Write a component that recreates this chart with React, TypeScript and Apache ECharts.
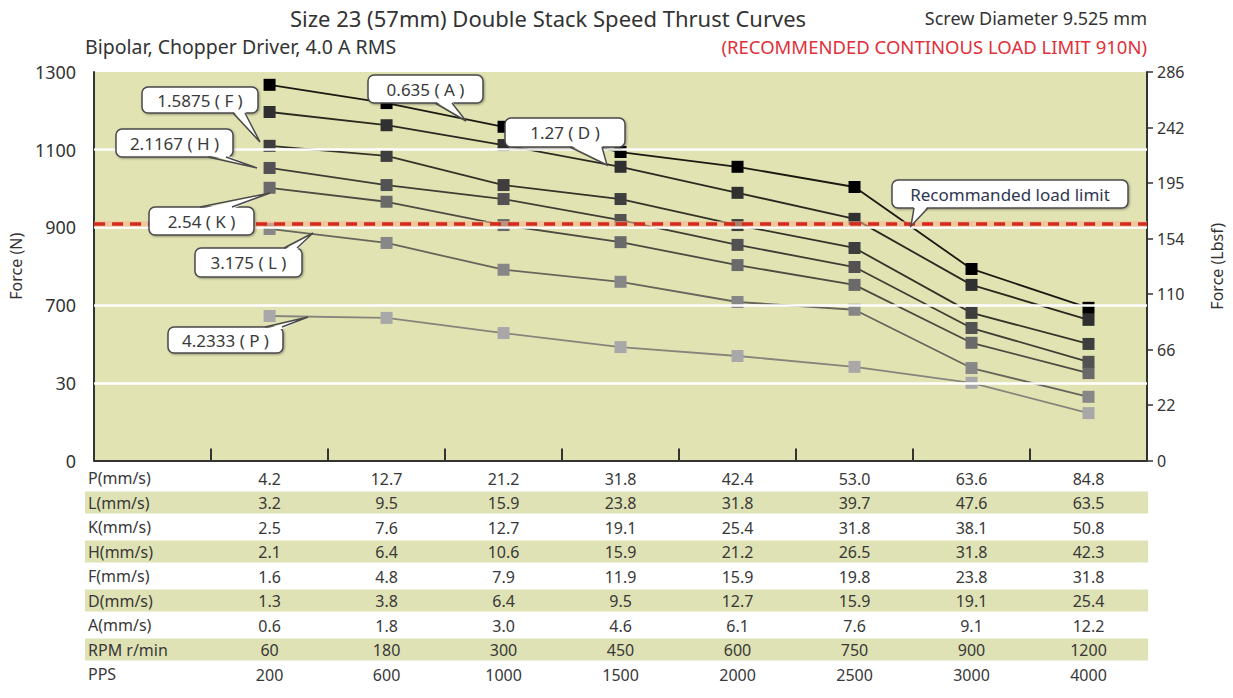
import React, { useEffect, useRef } from "react";
import * as echarts from "echarts";

// ---- data ----
const speedsP = ["4.2", "12.7", "21.2", "31.8", "42.4", "53.0", "63.6", "84.8"];
const rowL = ["3.2", "9.5", "15.9", "23.8", "31.8", "39.7", "47.6", "63.5"];
const rowK = ["2.5", "7.6", "12.7", "19.1", "25.4", "31.8", "38.1", "50.8"];
const rowH = ["2.1", "6.4", "10.6", "15.9", "21.2", "26.5", "31.8", "42.3"];
const rowF = ["1.6", "4.8", "7.9", "11.9", "15.9", "19.8", "23.8", "31.8"];
const rowD = ["1.3", "3.8", "6.4", "9.5", "12.7", "15.9", "19.1", "25.4"];
const rowA = ["0.6", "1.8", "3.0", "4.6", "6.1", "7.6", "9.1", "12.2"];
const rowRPM = ["60", "180", "300", "450", "600", "750", "900", "1200"];
const rowPPS = ["200", "600", "1000", "1500", "2000", "2500", "3000", "4000"];
const rowNames = ["P(mm/s)", "L(mm/s)", "K(mm/s)", "H(mm/s)", "F(mm/s)", "D(mm/s)", "A(mm/s)", "RPM r/min", "PPS"];

const seriesNames = ["0.635 ( A )", "1.27 ( D )", "1.5875 ( F )", "2.1167 ( H )", "2.54 ( K )", "3.175 ( L )", "4.2333 ( P )"];
const forceA = [1267, 1220, 1159, 1094, 1056, 1004, 793, 693];
const forceD = [1197, 1163, 1112, 1056, 989, 922, 752, 662];
const forceF = [1110, 1084, 1009, 973, 906, 847, 680, 600];
const forceH = [1053, 1009, 973, 919, 855, 798, 641, 554];
const forceK = [1002, 966, 906, 862, 803, 752, 603, 525];
const forceL = [896, 860, 791, 760, 708, 688, 538, 464];
const forceP = [672, 667, 628, 592, 569, 541, 500, 422];

const leftTickValues = [300, 500, 700, 900, 1100, 1300];
const leftTickLabels = ["0", "30", "700", "900", "1100", "1300"];
const rightTickLabels = ["0", "22", "66", "110", "154", "195", "242", "286"];
const gridLineValues = [500, 700, 900, 1100];
const loadLimit = 910;

const markerColors = ["#000000", "#303030", "#3e3e3e", "#525252", "#6a6a6a", "#878787", "#a8a8a8"];
const lineColors = ["#1a1a10", "#2a2a20", "#333328", "#3e3e34", "#4c4c42", "#66665c", "#85857c"];

const FONT = "'Noto Sans', 'DejaVu Sans', sans-serif";

function callout(text: string, box: number[], base: number[], tip: number[], color = "#3a3a3a") {
  const [x1, y1, x2, y2] = box;
  const below = tip[1] > y2;
  const by = below ? y2 : y1;
  const inner = below ? by - 2 : by + 2;
  const stroke = "#4a4a4a";
  return [
    {
      type: "rect",
      z: 100,
      shape: { x: x1, y: y1, width: x2 - x1, height: y2 - y1, r: 6 },
      style: { fill: "#ffffff", stroke, lineWidth: 1.5, shadowBlur: 2, shadowOffsetX: 1, shadowOffsetY: 1, shadowColor: "rgba(0,0,0,0.35)" },
    },
    {
      type: "polygon",
      z: 101,
      shape: { points: [[base[0], inner], [base[1], inner], [tip[0], tip[1]]] },
      style: { fill: "#ffffff" },
    },
    {
      type: "polyline",
      z: 102,
      shape: { points: [[base[0], by], [tip[0], tip[1]], [base[1], by]] },
      style: { stroke, lineWidth: 1.5, fill: null },
    },
    {
      type: "text",
      z: 103,
      x: (x1 + x2) / 2,
      y: (y1 + y2) / 2,
      style: { text, fontSize: 17, fontFamily: FONT, fill: color, align: "center", verticalAlign: "middle" },
    },
  ];
}

export default function App() {
  const ref = useRef<HTMLDivElement>(null);
  useEffect(() => {
    if (!ref.current) return;
    const chart = echarts.init(ref.current, null, { renderer: "svg" });
    const forces = [forceA, forceD, forceF, forceH, forceK, forceL, forceP];
    const tableRows = [rowL, rowK, rowH, rowF, rowD, rowA, rowRPM, rowPPS];
    const rowStep = 24.5;
    const rowCenter0 = 478;

    const extraX = tableRows.map((row, i) => ({
      type: "category",
      gridIndex: 0,
      position: "bottom",
      offset: (i + 1) * rowStep,
      boundaryGap: true,
      data: ["", ...row],
      z: 5,
      axisLine: { show: false },
      axisTick: { show: false },
      splitLine: { show: false },
      axisLabel: { interval: 0, margin: 10, fontSize: 16, color: "#383838", fontFamily: FONT },
    }));

    const bands: any[] = [];
    [1, 3, 5, 7].forEach((r) => {
      bands.push({
        type: "rect",
        z: 0,
        shape: { x: 85, y: rowCenter0 + r * rowStep - 11, width: 1063, height: 22 },
        style: { fill: "#dfe2b4" },
      });
    });
    const rowLabelEls = rowNames.map((n, i) => ({
      type: "text",
      z: 10,
      x: 88,
      y: rowCenter0 + i * rowStep,
      style: { text: n, fontSize: 16, fontFamily: FONT, fill: "#383838", align: "left", verticalAlign: "middle" },
    }));

    const titles = [
      { type: "text", z: 10, x: 290, y: 18, style: { text: "Size 23 (57mm) Double Stack Speed Thrust Curves", fontSize: 22, fontFamily: FONT, fill: "#333", align: "left", verticalAlign: "middle" } },
      { type: "text", z: 10, x: 1147, y: 18, style: { text: "Screw Diameter 9.525 mm", fontSize: 18, fontFamily: FONT, fill: "#333", align: "right", verticalAlign: "middle" } },
      { type: "text", z: 10, x: 85, y: 46, style: { text: "Bipolar, Chopper Driver, 4.0 A RMS", fontSize: 19.5, fontFamily: FONT, fill: "#333", align: "left", verticalAlign: "middle" } },
      { type: "text", z: 10, x: 1147, y: 46, style: { text: "(RECOMMENDED CONTINOUS LOAD LIMIT 910N)", fontSize: 18.5, fontFamily: FONT, fill: "#e0303a", align: "right", verticalAlign: "middle" } },
    ];

    const callouts = [
      ...callout(seriesNames[0], [368, 75, 483, 103], [435, 452], [466, 121]),
      ...callout(seriesNames[1], [505, 118, 625, 147], [570, 602], [607, 165]),
      ...callout(seriesNames[2], [142, 87, 258, 113], [233, 245], [260, 142]),
      ...callout(seriesNames[3], [116, 129, 233, 157], [208, 226], [257, 168]),
      ...callout(seriesNames[4], [149, 207, 254, 235], [200, 232], [270, 193]),
      ...callout(seriesNames[5], [195, 248, 302, 277], [284, 297], [313, 233]),
      ...callout(seriesNames[6], [168, 327, 283, 353], [265, 282], [308, 317]),
      ...callout("Recommanded load limit", [892, 180, 1128, 208], [914, 928], [911, 226], "#2f3650"),
    ];

    const lineSeries = forces.map((vals, i) => ({
      type: "line",
      name: seriesNames[i],
      xAxisIndex: 0,
      yAxisIndex: 0,
      z: 3 + (forces.length - i) * 0.01,
      data: [null, ...vals],
      symbol: "rect",
      symbolSize: 12,
      showSymbol: true,
      lineStyle: { color: lineColors[i], width: 1.8 },
      itemStyle: { color: markerColors[i], borderWidth: 0 },
    }));

    chart.setOption({
      animation: false,
      textStyle: { fontFamily: FONT },
      grid: {
        left: 86,
        right: 85,
        top: 72,
        bottom: 237.5,
        show: true,
        backgroundColor: "#e2e3b3",
        borderWidth: 0,
      },
      xAxis: [
        {
          type: "category",
          gridIndex: 0,
          position: "bottom",
          boundaryGap: true,
          data: ["", ...speedsP],
          z: 5,
          axisLine: { show: true, lineStyle: { color: "#333", width: 2 } },
          axisTick: { show: true, inside: true, length: 12, interval: 0, lineStyle: { color: "#333", width: 2 } },
          splitLine: { show: false },
          axisLabel: { interval: 0, margin: 10, fontSize: 16, color: "#383838", fontFamily: FONT },
        },
        ...extraX,
      ],
      yAxis: [
        {
          type: "value",
          min: 300,
          max: 1300,
          interval: 100,
          position: "left",
          name: "Force (N)",
          nameLocation: "middle",
          nameGap: 60,
          nameRotate: 90,
          nameTextStyle: { fontSize: 16, color: "#333", fontFamily: FONT },
          axisLine: { show: true, lineStyle: { color: "#333", width: 2 } },
          axisTick: { show: false },
          splitLine: { show: false },
          axisLabel: {
            margin: 18,
            fontSize: 18,
            color: "#333",
            fontFamily: FONT,
            formatter: (v: number) => {
              const k = leftTickValues.indexOf(v);
              return k >= 0 ? leftTickLabels[k] : "";
            },
          },
        },
        {
          type: "value",
          min: 0,
          max: rightTickLabels.length - 1,
          interval: 1,
          position: "right",
          name: "Force (Lbsf)",
          nameLocation: "middle",
          nameGap: 62,
          nameRotate: 90,
          nameTextStyle: { fontSize: 16, color: "#333", fontFamily: FONT },
          axisLine: { show: true, lineStyle: { color: "#333", width: 2 } },
          axisTick: { show: true, length: 6, lineStyle: { color: "#333", width: 1.5 } },
          splitLine: { show: false },
          axisLabel: {
            margin: 10,
            fontSize: 16,
            color: "#333",
            fontFamily: FONT,
            formatter: (v: number) => rightTickLabels[v] ?? "",
          },
        },
      ],
      series: [
        {
          type: "line",
          name: "grid",
          xAxisIndex: 0,
          yAxisIndex: 0,
          z: 1,
          data: [],
          markLine: {
            silent: true,
            symbol: ["none", "none"],
            label: { show: false },
            lineStyle: { color: "#ffffff", width: 2.5, type: "solid" },
            data: gridLineValues.map((v) => ({ yAxis: v })),
          },
        },
        ...lineSeries,
        {
          type: "line",
          name: "limitGlow",
          xAxisIndex: 0,
          yAxisIndex: 0,
          z: 6,
          data: [],
          markLine: {
            silent: true,
            symbol: ["none", "none"],
            label: { show: false },
            lineStyle: { color: "rgba(250,180,140,0.55)", width: 6, type: "solid" },
            data: [{ yAxis: loadLimit }],
          },
        },
        {
          type: "line",
          name: "limit",
          xAxisIndex: 0,
          yAxisIndex: 0,
          z: 7,
          data: [],
          markLine: {
            silent: true,
            symbol: ["none", "none"],
            label: { show: false },
            lineStyle: { color: "#d42a1e", width: 3.5, type: [11, 7] },
            data: [{ yAxis: loadLimit }],
          },
        },
      ],
      graphic: { elements: [...bands, ...rowLabelEls, ...titles, ...callouts] },
    });
    return () => chart.dispose();
  }, []);
  return <div ref={ref} style={{ position: "absolute", left: 0, top: 0, width: 1233, height: 698 }} />;
}
